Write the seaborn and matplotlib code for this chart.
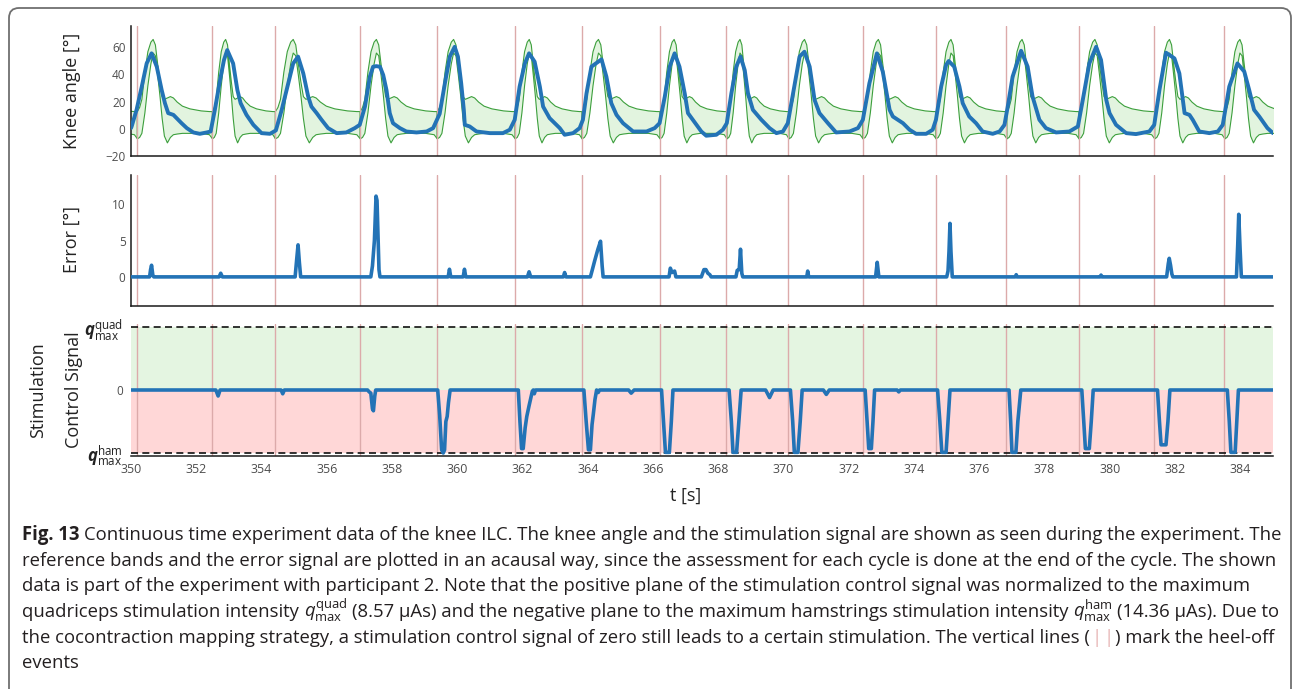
import matplotlib
matplotlib.use("Agg")
import matplotlib.pyplot as plt
import seaborn as sns
import numpy as np
from matplotlib.patches import FancyBboxPatch

# ---------------- data ----------------
heel_off = [350.18, 352.48, 354.41, 357.01, 359.37, 361.76, 363.81, 366.20,
            368.25, 370.15, 372.42, 374.66, 376.83, 379.04, 381.36, 383.51]
# estimated cycle limits just outside the visible window
cycle_start_before = 347.90
cycle_end_after = 385.70

knee_t = [350.00, 350.02, 350.17, 350.33, 350.48, 350.63, 350.79, 350.94, 351.04, 351.14,
          351.30, 351.40, 351.55, 351.71, 351.91, 352.11, 352.32, 352.44, 352.57, 352.73,
          352.85, 352.95, 353.13, 353.26, 353.36, 353.54, 353.75, 354.00, 354.26, 354.44,
          354.62, 354.77, 354.97, 355.12, 355.28, 355.43, 355.53, 355.69, 355.84, 356.04,
          356.30, 356.60, 356.86, 357.01, 357.17, 357.32, 357.42, 357.52, 357.63, 357.73,
          357.83, 357.93, 358.03, 358.24, 358.44, 358.75, 359.06, 359.26, 359.46, 359.62,
          359.77, 359.92, 360.02, 360.12, 360.20, 360.23, 360.38, 360.59, 361.00, 361.40,
          361.61, 361.76, 361.91, 362.07, 362.20, 362.37, 362.53, 362.63, 362.83, 363.14,
          363.29, 363.55, 363.75, 363.85, 363.96, 364.11, 364.42, 364.57, 364.72, 364.88,
          365.08, 365.39, 365.80, 366.05, 366.20, 366.36, 366.51, 366.66, 366.81, 366.97,
          367.07, 367.22, 367.48, 367.63, 367.94, 368.14, 368.26, 368.40, 368.55, 368.68,
          368.81, 368.91, 369.06, 369.32, 369.57, 369.78, 369.98, 370.13, 370.29, 370.49,
          370.64, 370.80, 370.95, 371.10, 371.36, 371.61, 372.02, 372.28, 372.43, 372.63,
          372.86, 373.04, 373.25, 373.35, 373.66, 373.86, 374.06, 374.37, 374.57, 374.67,
          374.83, 374.98, 375.06, 375.23, 375.39, 375.49, 375.69, 375.90, 376.10, 376.41,
          376.62, 376.77, 376.87, 377.02, 377.28, 377.48, 377.63, 377.84, 378.04, 378.35,
          378.76, 379.02, 379.17, 379.37, 379.58, 379.73, 379.89, 379.99, 380.19, 380.50,
          380.80, 381.21, 381.36, 381.52, 381.72, 381.98, 382.13, 382.29, 382.44, 382.54,
          382.74, 383.05, 383.31, 383.46, 383.66, 383.91, 384.12, 384.27, 384.42, 384.58,
          384.83, 385.00]
knee_v = [0.5, 1.7, 13.9, 31.0, 48.0, 55.4, 45.6, 28.5, 18.8, 11.5,
          10.2, 7.8, 4.1, 0.5, -2.7, -3.7, -2.7, -2.0, 13.9, 35.9,
          50.5, 57.8, 48.0, 28.5, 18.8, 10.2, 2.9, -3.2, -3.7, -1.2,
          14.0, 28.5, 48.0, 53.0, 40.7, 23.7, 16.3, 11.5, 6.6, 0.5,
          -3.2, -2.7, 0.5, 2.9, 16.3, 38.3, 45.6, 46.0, 45.6, 39.5,
          28.5, 11.5, 4.1, 0.5, -2.0, -2.7, -2.0, 0.5, 11.0, 33.4,
          53.0, 60.2, 53.0, 33.4, 13.9, 2.9, 1.7, -2.0, -3.2, -3.2,
          -0.7, 6.6, 31.0, 48.0, 55.4, 49.3, 31.0, 16.3, 7.8, 0.5,
          -4.4, -3.2, 0.5, 6.6, 26.0, 45.6, 51.0, 38.3, 18.8, 10.2,
          4.1, -2.0, -2.0, 0.5, 4.1, 23.7, 45.6, 55.4, 45.6, 26.0,
          11.5, 6.6, -2.0, -5.1, -4.4, -0.7, 4.1, 26.0, 45.6, 53.0,
          43.0, 26.0, 13.9, 6.6, 0.5, -3.2, -2.0, 4.1, 26.0, 53.0,
          56.6, 45.6, 21.2, 11.5, 4.1, -2.7, -2.0, 0.5, 6.6, 33.4,
          55.4, 42.0, 13.9, 9.0, 4.1, -0.7, -3.7, -3.7, -0.7, 6.6,
          31.0, 46.8, 49.8, 45.6, 31.0, 18.8, 9.0, 4.1, -2.0, -3.7,
          -2.0, 2.9, 16.3, 38.3, 57.3, 45.6, 23.7, 6.6, 0.5, -2.7,
          -2.0, 1.7, 21.2, 48.0, 60.2, 50.5, 21.2, 11.5, 2.9, -3.2,
          -3.9, -2.0, 2.9, 28.5, 55.9, 51.7, 40.7, 11.5, 10.2, 6.6,
          -2.0, -3.2, -2.0, 2.9, 31.0, 48.0, 42.0, 28.5, 13.9, 9.0,
          0.5, -3.2]

# reference band over one gait cycle (percent of cycle)
band_pct = [0, 3, 6, 10, 14, 18, 21, 24, 27, 30, 33, 36, 40, 44, 48, 53, 60, 70, 85, 96, 100]
band_upper = [13, 16, 22, 42, 57, 64, 66, 62, 48, 35, 24, 22, 23, 24, 23, 20, 17, 15, 13.5, 13, 13]
band_lower = [-7, -6, -3, 12, 32, 48, 56, 54, 40, 25, 8, -5, -10, -6, -4, -3.5, -3, -3, -3, -4, -7]

err_t = [350.00, 350.57, 350.60, 350.63, 350.67, 350.70, 352.70, 352.75, 352.80,
         355.03, 355.08, 355.12, 355.16, 355.20, 357.35, 357.40, 357.46, 357.51, 357.54,
         357.60, 357.63, 359.72, 359.76, 359.80, 360.18, 360.22, 360.26, 362.15, 362.20,
         362.25, 363.25, 363.29, 363.33, 364.08, 364.14, 364.21, 364.31, 364.39, 364.44,
         364.47, 366.49, 366.53, 366.58, 366.66, 366.70, 367.48, 367.56, 367.62, 367.68,
         367.74, 367.78, 368.54, 368.58, 368.64, 368.68, 368.72, 368.75, 370.71, 370.74,
         370.77, 372.82, 372.87, 372.92, 375.00, 375.04, 375.07, 375.10, 375.13, 375.17,
         377.10, 377.13, 377.16, 379.70, 379.73, 379.76, 381.74, 381.79, 381.82, 381.86,
         381.90, 381.93, 383.88, 383.92, 383.95, 383.99, 384.03, 385.00]
err_v = [0, 0, 1.0, 1.6, 0.2, 0, 0, 0.5, 0,
         0, 2.5, 4.4, 2.0, 0, 0, 1.5, 5.0, 11.1, 10.5,
         1.0, 0, 0, 1.05, 0, 0, 1.05, 0, 0, 0.7,
         0, 0, 0.6, 0, 0, 1.0, 2.2, 3.8, 4.9, 1.5,
         0, 0, 1.2, 0.6, 0.8, 0, 0, 1.0, 1.0, 0.5,
         0.3, 0, 0, 0.9, 1.0, 3.8, 0.5, 0, 0, 0.8,
         0, 0, 2.0, 0, 0, 0.8, 3.5, 7.35, 3.5, 0,
         0, 0.3, 0, 0, 0.25, 0, 0, 1.8, 2.55, 1.6,
         0.4, 0, 0, 4.5, 8.6, 4.0, 0, 0]

stim_t = [350.00, 352.60, 352.67, 352.73, 354.60, 354.65, 354.70,
          357.25, 357.30, 357.35, 357.40, 357.43, 357.47, 357.50,
          359.40, 359.46, 359.52, 359.57, 359.61, 359.65, 359.69, 359.73, 359.78,
          361.87, 361.92, 361.97, 362.02, 362.08, 362.13, 362.20, 362.30, 362.33, 362.36, 362.40,
          363.88, 363.95, 364.02, 364.08, 364.13, 364.17, 364.22, 364.27, 364.32, 364.36,
          365.25, 365.33, 365.42,
          366.26, 366.32, 366.38, 366.50, 366.56, 366.61,
          368.33, 368.40, 368.45, 368.56, 368.63, 368.70,
          369.45, 369.57, 369.68,
          370.21, 370.28, 370.33, 370.44, 370.51, 370.57,
          371.22, 371.31, 371.40,
          372.50, 372.56, 372.61, 372.69, 372.74, 372.79,
          373.48, 373.53, 373.58,
          374.72, 374.79, 374.85, 374.98, 375.04, 375.10,
          376.91, 376.96, 377.00, 377.12, 377.18, 377.27,
          379.14, 379.20, 379.25, 379.37, 379.43, 379.49,
          381.46, 381.52, 381.57, 381.72, 381.78, 381.84,
          383.60, 383.66, 383.71, 383.84, 383.89, 383.94,
          385.00]
stim_v = [0, 0, -0.095, 0, 0, -0.06, 0,
          0, -0.03, -0.05, -0.30, -0.33, -0.10, 0,
          0, -0.40, -0.95, -1.00, -0.95, -0.50, -0.42, -0.20, 0,
          0, -0.50, -0.93, -0.93, -0.60, -0.42, -0.25, -0.02, 0, -0.06, 0,
          0, -0.50, -0.95, -0.95, -0.55, -0.38, -0.15, 0, -0.04, 0,
          0, -0.05, 0,
          0, -0.50, -0.99, -0.99, -0.50, 0,
          0, -0.50, -0.99, -0.99, -0.50, 0,
          0, -0.12, 0,
          0, -0.50, -0.99, -0.99, -0.50, 0,
          0, -0.07, 0,
          0, -0.50, -0.93, -0.93, -0.50, 0,
          0, -0.03, 0,
          0, -0.50, -0.99, -0.99, -0.50, 0,
          0, -0.50, -0.99, -0.99, -0.50, 0,
          0, -0.50, -0.93, -0.93, -0.50, 0,
          0, -0.50, -0.87, -0.87, -0.50, 0,
          0, -0.50, -0.99, -0.99, -0.50, 0,
          0]

x_ticks = list(range(350, 386, 2))
knee_ticks = [-20, 0, 20, 40, 60]
err_ticks = [0, 5, 10]

caption_lines = [
    [("Fig. 13", {"fontweight": "bold"}), (" ", {}),
     ("Continuous time experiment data of the knee ILC. The knee angle and the stimulation signal are shown as seen during the experiment. The", {})],
    [("reference bands and the error signal are plotted in an acausal way, since the assessment for each cycle is done at the end of the cycle. The shown", {})],
    [("data is part of the experiment with participant 2. Note that the positive plane of the stimulation control signal was normalized to the maximum", {})],
    [("quadriceps stimulation intensity", {}), (" ", {}), (r"$q^{\mathrm{quad}}_{\mathrm{max}}$", {}), (" ", {}),
     ("(8.57 μAs) and the negative plane to the maximum hamstrings stimulation intensity", {}), (" ", {}),
     (r"$q^{\mathrm{ham}}_{\mathrm{max}}$", {}), (" ", {}), ("(14.36 μAs). Due to", {})],
    [("the cocontraction mapping strategy, a stimulation control signal of zero still leads to a certain stimulation. The vertical lines (", {}),
     ("|", {"color": "#e6b3b3"}), ("|", {"color": "#e6b3b3"}), (") mark the heel-off", {})],
    [("events", {})],
]

# ---------------- style ----------------
sns.set_theme(style="white")
plt.rcParams["font.family"] = ["Open Sans", "DejaVu Sans"]
plt.rcParams["mathtext.fontset"] = "custom"
plt.rcParams["mathtext.rm"] = "Open Sans"
plt.rcParams["mathtext.it"] = "Open Sans:italic"
plt.rcParams["mathtext.bf"] = "Open Sans:italic:bold"

BLUE = "#2373b6"
GREEN_EDGE = "#3c9f3c"
GREEN_FILL = "#e2f4df"
RED_LINE = "#dcaaaa"
TICK_C = "#4d4d4d"
TXT = "#231f20"

W, H = 1293, 689
fig = plt.figure(figsize=(W / 100, H / 100), dpi=100)
fig.patch.set_facecolor("white")

frame = FancyBboxPatch((9, -300), 1282, 681 + 300, boxstyle="round,pad=0,rounding_size=10",
                       transform=None, fill=False, edgecolor="#6f6f6f", linewidth=1.3,
                       clip_on=False)
fig.add_artist(frame)


def add_ax(l, t, r, b):
    return fig.add_axes([l / W, 1 - b / H, (r - l) / W, (b - t) / H])


ax1 = add_ax(131, 26, 1273, 156)
ax2 = add_ax(131, 175, 1273, 306)
ax3 = add_ax(131, 324, 1273, 456)

for ax in (ax1, ax2, ax3):
    ax.set_facecolor("none")
    ax.set_xlim(350, 385)
    ax.set_xticks(x_ticks)
    for s in ("top", "right"):
        ax.spines[s].set_visible(False)
    for s in ("left", "bottom"):
        ax.spines[s].set_color("#1a1a1a")
        ax.spines[s].set_linewidth(1.1)
    ax.tick_params(axis="both", direction="in", length=7.5, width=1, color="#8a8a8a",
                   labelsize=8.5, labelcolor=TICK_C, pad=4)
    for h in heel_off:
        ax.axvline(h, color=RED_LINE, lw=1.0, zorder=1.5)
    ax.grid(False)

line_kw = dict(estimator=None, sort=False, zorder=3, solid_joinstyle="round", solid_capstyle="round")

# ---- knee angle
bounds = [cycle_start_before] + heel_off + [cycle_end_after]
pct = np.array(band_pct) / 100.0
for a, b in zip(bounds[:-1], bounds[1:]):
    tt = a + pct * (b - a)
    ax1.fill_between(tt, band_lower, band_upper, facecolor=GREEN_FILL, edgecolor=GREEN_EDGE,
                     linewidth=0.8, zorder=1)
sns.lineplot(x=knee_t, y=knee_v, ax=ax1, color=BLUE, linewidth=2.8, **line_kw)
ax1.set_ylim(-20, 75.5)
ax1.set_yticks(knee_ticks)
ax1.tick_params(axis="x", labelbottom=False)

# ---- error
sns.lineplot(x=err_t, y=err_v, ax=ax2, color=BLUE, linewidth=2.6, **line_kw)
ax2.set_ylim(-4, 14)
ax2.set_yticks(err_ticks)
ax2.tick_params(axis="x", labelbottom=False)

# ---- stimulation
ax3.fill_between([350, 385], [0, 0], [1, 1], color="#e4f5e1", lw=0, zorder=1)
ax3.fill_between([350, 385], [-1, -1], [0, 0], color="#ffd7d7", lw=0, zorder=1)
ax3.axhline(1, color="#111111", lw=1.2, ls=(0, (4.2, 2.6)), zorder=2)
ax3.axhline(-1, color="#111111", lw=1.2, ls=(0, (4.2, 2.6)), zorder=2)
sns.lineplot(x=stim_t, y=stim_v, ax=ax3, color=BLUE, linewidth=2.6, **line_kw)
ax3.set_ylim(-1.048, 1.048)
ax3.spines["left"].set_visible(False)
ax3.set_yticks([-1, 0, 1])
ax3.set_yticklabels([r"$\mathbf{q}^{\mathrm{ham}}_{\mathrm{max}}$", "0",
                     r"$\mathbf{q}^{\mathrm{quad}}_{\mathrm{max}}$"])
ax3.tick_params(axis="y", length=0, pad=6)
for lab in ax3.get_yticklabels():
    lab.set_fontsize(12)
    lab.set_color("#222222")
ax3.get_yticklabels()[1].set_fontsize(8.5)
ax3.get_yticklabels()[1].set_color(TICK_C)
ax3.tick_params(axis="x", pad=5, labelsize=9)

for ax in (ax1, ax2, ax3):
    ax.set_xlabel("")
    ax.set_ylabel("")

# ---- axis labels
def ftext(x, y, s, **kw):
    return fig.text(x / W, 1 - y / H, s, **kw)

ftext(72, 91, "Knee angle [°]", rotation=90, ha="center", va="center", fontsize=13, color="#222222")
ftext(72, 240, "Error [°]", rotation=90, ha="center", va="center", fontsize=13, color="#222222")
ftext(38, 390, "Stimulation", rotation=90, ha="center", va="center", fontsize=13, color="#222222")
ftext(74, 390, "Control Signal", rotation=90, ha="center", va="center", fontsize=13, color="#222222")
ftext(686, 496, "t [s]", ha="center", va="center", fontsize=13, color="#222222")

# ---- caption
renderer = fig.canvas.get_renderer()


def space_w(fs):
    t1 = fig.text(0, 0, "n n", fontsize=fs)
    t2 = fig.text(0, 0, "nn", fontsize=fs)
    w = t1.get_window_extent(renderer).width - t2.get_window_extent(renderer).width
    t1.remove(); t2.remove()
    return w


def draw_line(pieces, y, fs):
    x = 22.0
    sw = space_w(fs)
    arts = []
    for s, kw in pieces:
        if s == " ":
            x += sw
            continue
        kw2 = dict(color=TXT)
        kw2.update(kw)
        t = fig.text(x / W, 1 - y / H, s, fontsize=fs, ha="left", va="baseline", **kw2)
        arts.append(t)
        x = t.get_window_extent(renderer).x1 + (1.5 if s in ("(", "|") or s.endswith("(") else 0)
    return x, arts


fs0 = 12.0
end, arts = draw_line(caption_lines[0], 540, fs0)
for a in arts:
    a.remove()
cap_fs = fs0 * (1278 - 22) / (end - 22)
baselines = [540, 566, 591, 617, 643, 668]
for pieces, yb in zip(caption_lines, baselines):
    draw_line(pieces, yb, cap_fs)

fig.savefig("out.png", dpi=100, facecolor="white")
